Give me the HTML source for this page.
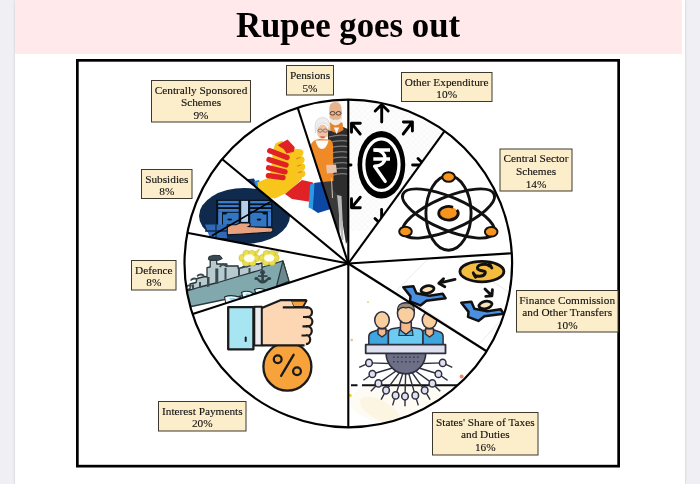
<!DOCTYPE html>
<html><head><meta charset="utf-8">
<style>
html,body{margin:0;padding:0;width:700px;height:484px;overflow:hidden;background:#efeff4;}
#page{position:absolute;left:15px;top:0;width:670px;height:484px;background:#fff;box-shadow:0 0 2.5px rgba(0,0,0,0.18);}
#hdr{position:absolute;left:0;top:0;width:667.3px;height:53.5px;background:#ffe9eb;}
#ttl{will-change:transform;position:absolute;left:0;top:6px;width:666px;text-align:center;font:bold 34.8px "Liberation Serif",serif;color:#000;line-height:40px;}
svg{position:absolute;left:0;top:0;will-change:transform;}
.lb{fill:#fdeecb;stroke:#3d392e;stroke-width:1;}
.tx{font-family:"Liberation Serif",serif;font-size:11.3px;fill:#111;stroke:#111;stroke-width:0.12px;text-anchor:middle;}
</style></head><body>
<div id="page"><div id="hdr"></div><div id="ttl">Rupee goes out</div></div>
<svg width="700" height="484" viewBox="0 0 700 484">
<defs>
<clipPath id="cp"><circle cx="348.3" cy="263.5" r="164"/></clipPath>
<clipPath id="w_oth"><path d="M348.3 263.5L348.3 97.5A166 166 0 0 1 445.9 129.2Z"/></clipPath>
<clipPath id="w_csc"><path d="M348.3 263.5L445.9 129.2A166 166 0 0 1 514.0 253.1Z"/></clipPath>
<clipPath id="w_fin"><path d="M348.3 263.5L514.0 253.1A166 166 0 0 1 488.5 352.4Z"/></clipPath>
<clipPath id="w_sta"><path d="M348.3 263.5L488.5 352.4A166 166 0 0 1 348.3 429.5Z"/></clipPath>
<clipPath id="w_int"><path d="M348.3 263.5L348.3 429.5A166 166 0 0 1 190.4 314.8Z"/></clipPath>
<clipPath id="w_def"><path d="M348.3 263.5L190.4 314.8A166 166 0 0 1 185.2 232.4Z"/></clipPath>
<clipPath id="w_sub"><path d="M348.3 263.5L185.2 232.4A166 166 0 0 1 220.4 157.7Z"/></clipPath>
<clipPath id="w_css"><path d="M348.3 263.5L220.4 157.7A166 166 0 0 1 297.0 105.6Z"/></clipPath>
<clipPath id="w_pen"><path d="M348.3 263.5L297.0 105.6A166 166 0 0 1 348.3 97.5Z"/></clipPath>
<pattern id="hatch" width="4" height="4" patternUnits="userSpaceOnUse" patternTransform="rotate(45)"><rect width="4" height="4" fill="#fdfdfd"/><path d="M0 0H4M0 0V4" stroke="#f1f1f1" stroke-width="0.7"/></pattern>
</defs>
<!-- main box -->
<rect x="77.35" y="60.35" width="541.3" height="405.8" fill="#fff" stroke="#000" stroke-width="2.7"/>
<g id="art" clip-path="url(#cp)">
<!-- OTHER EXPENDITURE: rupee -->
<g clip-path="url(#w_oth)">
<rect x="340" y="90" width="120" height="141" fill="url(#hatch)"/>
<ellipse cx="381.4" cy="164.75" rx="23.85" ry="33.85" fill="#000"/>
<ellipse cx="381.4" cy="164.6" rx="17.6" ry="25.8" fill="none" stroke="#fff" stroke-width="3.3"/>
<g stroke="#fff" stroke-width="3.3" fill="none">
<path d="M373.3 150H390M373.3 159H390"/>
<path d="M375.5 150.2C388 150.2 388.5 166 374.6 166.2L385.2 181.4" stroke-linecap="round" stroke-linejoin="round"/>
</g>
<g stroke="#000" stroke-width="2.9" fill="none" stroke-linecap="round" stroke-linejoin="round">
<path d="M381.7 122V104.6M375.2 111L381.7 104.5L388.2 111"/>
<path d="M360.2 134L351.5 123.3M351.5 132.3V123.3H360.3"/>
<path d="M403.2 134L412.4 122M403.4 122H412.4V131"/>
<path d="M360.2 197.2L351.5 207.7M351.5 198.8V207.7H360.3"/>
<path d="M412.6 165H424M418 158.5L424.5 165L418 171.5"/>
<path d="M381.6 209.5V225M375 218.5L381.6 225L388.2 218.5"/>
<path d="M403.2 197.2L412 207.7M412 198.8V207.7H403.2"/>
<path d="M351 165H340"/>
</g>
</g>
<!-- DEFENCE ship -->
<g clip-path="url(#w_def)" stroke-linejoin="round">
<path d="M184 308L290 286L282.9 260.9L184 290.8Z" fill="#80a8ad" stroke="#2b393e" stroke-width="1.4"/>
<path d="M282.9 260.9L289 281L276.5 286.5Z" fill="#6a8a90" stroke="#2b393e" stroke-width="1.2"/>
<g fill="#b7cbcf" stroke="#26343a" stroke-width="1.3">
<path d="M184 291L190 289L190 284L196 282.5L197 278.5L205 276.5L207 277V267.7L210.2 267V260.2L216.7 260.2V264H226.9V266L238.1 265.8V268.5L262 263V269.5L238 276.5L218 282.5L200 287L184 292Z"/>
</g>
<path d="M208.3 259.5L209 256.5L214 255.3L220 255.6L222.3 258.5L219 260.2H210Z" fill="#3b4a50" stroke="#26343a" stroke-width="1"/>
<g fill="#3b4a50">
<path d="M215.3 268.6H218.3V283.3L215.3 284Z"/>
<path d="M207 277H209.5V286.5L207 287Z"/>
<path d="M219 266.5Q223 260.5 227.5 266.5L226 267.5Q223 263.5 220.5 267.5Z"/>
<path d="M224.5 268H226.5V279.5L224.5 280Z"/>
<path d="M238 268.5H240V275.5L238 276Z"/>
<path d="M190 280Q193 276 197.5 278.5L196.5 280Q193.5 278.5 191 281Z"/>
<path d="M196.5 275.5Q200 272 204.5 275L203.5 276.5Q200.5 274.5 197.5 277Z"/>
<path d="M186 286Q189 283.5 192 285.5L191 287Q189 285.5 187 287.5Z"/>
<path d="M192 284.5H194V290H192Z"/><path d="M199 282H201V288H199Z"/>
<path d="M241 267.5Q244.5 263.5 248 266.5L247 268Q244.5 265.5 242.5 268.5Z"/>
<path d="M252.5 265Q256 261.5 259.5 264L258.5 265.5Q256 263.5 254 266Z"/>
<path d="M248.5 268H250.5V273L248.5 273.5Z"/>
</g>
<g fill="#34434a"><path d="M261.3 273h2.6v10h-2.6z"/><path d="M255.5 278Q262.5 289 270 278L268 277Q262.5 284.5 257.5 277Z"/><circle cx="262.6" cy="272.3" r="2.4"/><path d="M258 275.3h9.4v1.8h-9.4z"/><circle cx="256" cy="278.5" r="1.6"/><circle cx="269.5" cy="278.5" r="1.6"/></g>
<g fill="#e9f7fb" stroke="#1f2b30" stroke-width="1.1" stroke-linejoin="round"><path d="M224.5 297Q231 294 240.5 297.5L241 300L226 304Z"/><path d="M241.5 292.5Q246 290 252 292.5L252.5 295L243 298Z"/><path d="M254.5 289.5Q259 287.5 264.5 289.5L264.5 291L256 293.5Z"/></g><g fill="#8fd5ec"><path d="M229 298.5Q232 297 236 298.5L232 301Z"/><path d="M245 294Q247.5 293 249.5 294L247 296Z"/></g>
<g fill="#eadf4e" stroke="#cdbb33" stroke-width="0.6">
<path d="M252.5 253.5L259.5 249L256.5 255Z"/><path d="M272.5 253.5L279.5 249.5L276.5 255.5Z"/>
<circle cx="242.5" cy="258" r="3.6"/><circle cx="246.5" cy="253.8" r="3.6"/><circle cx="252" cy="254" r="3.6"/><circle cx="256" cy="258.2" r="3.5"/><circle cx="252.5" cy="262.5" r="3.5"/><circle cx="246" cy="262.5" r="3.5"/>
<circle cx="262.5" cy="258" r="3.4"/><circle cx="266.5" cy="254" r="3.5"/><circle cx="272" cy="254" r="3.5"/><circle cx="275.8" cy="258" r="3.4"/><circle cx="272" cy="262" r="3.4"/><circle cx="266" cy="262" r="3.4"/>
</g>
<g fill="#fffef4"><ellipse cx="249.3" cy="258.2" rx="5.4" ry="4"/><ellipse cx="269.2" cy="258" rx="5.2" ry="3.8"/></g>
</g>
<!-- SUBSIDIES -->
<g clip-path="url(#w_sub)">
<ellipse cx="244.5" cy="215.9" rx="45.5" ry="27.9" fill="#0f2a4c"/>
<rect x="216" y="199.7" width="56.4" height="27" fill="#07121f"/>
<g fill="#3b7bcc">
<rect x="218.2" y="200.9" width="20.5" height="2.5"/><rect x="218.2" y="204.9" width="20.5" height="2.2"/><rect x="218.2" y="209" width="20.5" height="2.8"/>
<rect x="250.2" y="201" width="20.9" height="2.4"/><rect x="250.2" y="205.2" width="20.9" height="1.9"/><rect x="250.2" y="209" width="20.9" height="2.3"/>
<rect x="218.2" y="211.8" width="3.8" height="14"/><rect x="267.9" y="211.3" width="3.2" height="15"/>
<path d="M223 227V214.5H226L227.5 212.8H238.7V227Z" fill="#3276c2"/>
<path d="M266.5 227V214.5H263.5L262 212.8H250.2V227Z" fill="#3276c2"/>
</g>
<rect x="241.2" y="200.9" width="6.8" height="21" fill="#b3cdea"/>
<g fill="#07121f"><ellipse cx="229.7" cy="219.5" rx="2.4" ry="1.1"/><ellipse cx="259" cy="219.6" rx="2.4" ry="1.1"/></g>
<path d="M205 224.5H227L227 238H210Z" fill="#2e6ab8"/>
<path d="M205 231H227M216 224.5V238" stroke="#0f2a4c" stroke-width="1.3"/>
<path d="M227.3 224.8H236L240 223H249.5Q251.5 225 248.5 226.6L271.5 227.6Q274.5 230 271.5 232L243 234L227.3 234.8Z" fill="#e8a27f" stroke="#07121f" stroke-width="1.1"/>
<path d="M211.9 235.7L271.1 201.4" stroke="#000" stroke-width="1.6"/>
</g>
<!-- CENTRALLY SPONSORED handshake -->
<g clip-path="url(#w_css)" stroke="none">
<path d="M238 180L254 178.5L262 195L244 199Z" fill="#16336b"/>
<path d="M254 181L259 180L264.5 195.5L259.5 196.5Z" fill="#2a8fe0"/>
<path d="M257.4 182.5L267 178.5L271 171L272 160L273 150L275.5 143.5L281.5 140.8L289 145L295 149L299 149.3L301 153L302 178.5L299 182L290 190.5L285.5 193.5L274.8 198.5L264.9 197L258.3 189.5Z" fill="#f7c51c"/>
<path d="M285 194L302 180L313 182.5L311.5 202L292 199Z" fill="#e02126"/>
<path d="M314 183L328 181L334 208L318 213L312 209Z" fill="#0c47a3"/>
<path d="M310.2 184.5L314.5 183L312.8 209.5L308.6 207.5Z" fill="#2b9ae6"/>
<g stroke="#e02126" stroke-width="5.4" stroke-linecap="round" fill="none">
<path d="M269.8 150.8L287 157.5M269 159.6L286 165M268.6 167.8L285 171.8M268.4 175.6L283 177.6"/>
</g>
<path d="M278.6 145.3L287.4 140.2L294.1 147.4L293.1 151.5L286.9 152.6L283.8 148.4Z" fill="#e02126" stroke="#e02126" stroke-width="1.2" stroke-linejoin="round"/>
<g fill="#f7c51c"><circle cx="299.8" cy="152.8" r="3.6"/><circle cx="301" cy="159.8" r="3.6"/><circle cx="301.6" cy="166.8" r="3.6"/><circle cx="301.8" cy="173.6" r="3.6"/></g>
<g stroke="#d88a1a" stroke-width="1.2" stroke-linecap="round"><path d="M296.5 158.8L300 157.5M297.5 166L300.8 165M298.5 172.5L301.3 171.8"/></g>
</g>
<!-- PENSIONS couple -->
<g clip-path="url(#w_pen)" stroke="none">
<path d="M322 180L338 178L339 200L339.5 234L336.5 236Z" fill="#3a3a3a"/>
<path d="M327.5 131L334 126.5L342 126.5L350 130L350 236L346 244L338 195L331 188Z" fill="#2d2d2d"/>
<path d="M337 195L341.5 196L343.5 240L341.5 240Z" fill="#b9b9b9"/>
<g stroke="#7c7c7c" stroke-width="1.25" fill="none"><path d="M329 137Q340 134 350 136M329 142.5Q340 139.5 350 141.5M329 148Q340 145 350 147M329 153.5Q340 150.5 350 152.5M329.5 159Q340 156 350 158M330 164.5Q340 161.5 350 163.5M331 170Q340 167 350 169M332 175.5Q340 172.5 350 174.5"/></g>
<path d="M329.5 122.5H342.5L343.5 130L337 133.5L328.5 130Z" fill="#e6822a"/>
<path d="M333.8 127.5L336.5 134L339.2 127.5Z" fill="#f5f5f5"/>
<path d="M329.2 111Q328.5 102 335.5 102Q342 102 341.8 111L341.5 119Q340 125 335.5 125Q331 125 329.8 119Z" fill="#e8b48f"/>
<g fill="none" stroke="#3a2a20" stroke-width="0.8"><ellipse cx="332.6" cy="113.3" rx="2.5" ry="1.8"/><ellipse cx="338.6" cy="113.3" rx="2.5" ry="1.8"/></g>
<path d="M329.5 117Q332 121 335.5 119.5Q339 121 341.5 117Q342.5 124 335.5 125.5Q329 124 329.5 117Z" fill="#efebe6"/>
<path d="M311 144Q313.5 139.5 319.5 139L329.5 139.5Q333 141 333 146L333.5 181L322 182L312 178Z" fill="#ef8a27"/>
<path d="M315.5 140.5Q317.5 149 322 149Q326.5 149 328.5 140.5Z" fill="#fbfbfb"/>
<path d="M326 165L336 164.5L337 172.5L327 173.5Z" fill="#eac4ad"/>
<path d="M331.5 178L332.5 198" stroke="#cfc5b8" stroke-width="1" fill="none"/>
<ellipse cx="322.6" cy="131.8" rx="5.6" ry="7.2" fill="#f2c3a2"/>
<path d="M315.5 133Q313 117.5 322.5 117.5Q331 117 330 131Q329 124 322.5 123Q317 123.5 315.5 133Z" fill="#eeeeee" stroke="#cfcfcf" stroke-width="0.6"/>
<g fill="none" stroke="#5a5a5a" stroke-width="0.7"><ellipse cx="320.2" cy="130.6" rx="2.2" ry="1.6"/><ellipse cx="325.3" cy="130.6" rx="2.2" ry="1.6"/></g>
<path d="M320.5 136.4Q322.6 138.2 324.6 136.4" stroke="#d2504e" stroke-width="1.3" fill="none"/>
</g>
<!-- FINANCE -->
<g clip-path="url(#w_fin)">
<path d="M441 246L396.6 290.7L478 345L520 300Z" fill="#fff" stroke="#e6e6e6" stroke-width="0.8"/>
<ellipse cx="481.9" cy="271.6" rx="22" ry="10.2" fill="#f4bd40" stroke="#111" stroke-width="2.8"/>
<g fill="none" stroke="#111" stroke-width="2.9" stroke-linecap="round" stroke-linejoin="round">
<path d="M489.5 266C485 262.5 476 265 477.5 268.7C479 272 487 269.5 485 273.8C483 277.5 475 276.5 474 274.5"/>
<path d="M489.5 263.8L491.8 268M473.3 272.8L475.5 277.2"/>
<path d="M455 279.4L439 283.2M443.5 278.8L438.8 283.3L444.8 286.8"/>
<path d="M485 289L491.8 295.8M485.8 296.4L491.9 295.9L492.4 289.8"/>
</g>
<g stroke="#111" stroke-width="2.5" stroke-linejoin="round">
<path d="M403.3 287.3L413.4 286.2L416.4 293.2L429.3 295.8L442.7 293.8L445.6 298.2L426.4 300.7L420.4 305.4L410 301.4L410.5 296.4Z" fill="#4a8fe0"/>
<ellipse cx="427.5" cy="289.5" rx="6.6" ry="3.6" transform="rotate(-12 427.5 289.5)" fill="#fbe2b6" stroke-width="2.8"/>
</g>
<g transform="translate(58 15.5)" stroke="#111" stroke-width="2.5" stroke-linejoin="round">
<path d="M403.3 287.3L413.4 286.2L416.4 293.2L429.3 295.8L442.7 293.8L445.6 298.2L426.4 300.7L420.4 305.4L410 301.4L410.5 296.4Z" fill="#4a8fe0"/>
<ellipse cx="427.5" cy="289.5" rx="6.6" ry="3.6" transform="rotate(-12 427.5 289.5)" fill="#fbe2b6" stroke-width="2.8"/>
</g>
</g>
<!-- STATES SHARE -->
<g clip-path="url(#w_sta)">
<ellipse cx="380" cy="410" rx="22" ry="9.5" transform="rotate(28 380 410)" fill="#f9efcf"/>
<ellipse cx="400" cy="402" rx="50" ry="22" fill="#fdf9ec" opacity="0.6"/>
<circle cx="350.2" cy="395.4" r="1.6" fill="#f3cf45"/>
<circle cx="461.6" cy="376.6" r="2" fill="#eb8a6c"/>
<circle cx="351.8" cy="340" r="1.3" fill="#f1b9a8"/>
<circle cx="368" cy="302" r="1.2" fill="#dfe6a8"/>
<g stroke="#111" stroke-width="2.1" fill="none">
<path d="M351 385.2H357.5M362 385.2H470"/>
</g>
<g stroke="#2e2f3e" stroke-width="1.4" fill="none">
<path d="M405.9 364L369 362.9M405.9 364L372.4 374M405.9 364L378.4 383.4M405.9 364L386.1 390.3M405.9 364L395.6 395.4M405.9 364L405 396.3M405.9 364L415.3 395.4M405.9 364L424.7 390.3M405.9 364L432.4 383.4M405.9 364L438.4 374M405.9 364L442.7 362.9"/>
<path d="M369.0 362.9L359.2 367.3M372.4 374.0L363.4 380.3M378.4 383.4L370.8 391.2M386.1 390.3L381.1 399.7M395.6 395.4L392.6 405.4M405.0 396.3L405.0 406.3M415.3 395.4L418.3 405.4M424.7 390.3L430.1 399.7M432.4 383.4L440.2 391.2M438.4 374.0L447.6 380.3M442.7 362.9L452.3 367.3"/>
</g>
<g fill="#dfe0f0" stroke="#2e2f3e" stroke-width="1.5">
<ellipse cx="369" cy="362.9" rx="3.3" ry="3.6"/><ellipse cx="372.4" cy="374" rx="3.3" ry="3.6"/><ellipse cx="378.4" cy="383.4" rx="3.3" ry="3.6"/><ellipse cx="386.1" cy="390.3" rx="3.3" ry="3.6"/><ellipse cx="395.6" cy="395.4" rx="3.3" ry="3.6"/><ellipse cx="405" cy="396.3" rx="3.3" ry="3.6"/><ellipse cx="415.3" cy="395.4" rx="3.3" ry="3.6"/><ellipse cx="424.7" cy="390.3" rx="3.3" ry="3.6"/><ellipse cx="432.4" cy="383.4" rx="3.3" ry="3.6"/><ellipse cx="438.4" cy="374" rx="3.3" ry="3.6"/><ellipse cx="442.7" cy="362.9" rx="3.3" ry="3.6"/>
</g>
<path d="M386 352.6A19.9 21.3 0 0 0 425.8 352.6Z" fill="#6d6f86" stroke="#2e2f3e" stroke-width="1.6"/>
<g fill="#3d3f52"><path d="M393 356.5h1.6v1.6h-1.6zM397 356.5h1.6v1.6h-1.6zM401 356.5h1.6v1.6h-1.6zM405 356.5h1.6v1.6h-1.6zM409 356.5h1.6v1.6h-1.6zM413 356.5h1.6v1.6h-1.6zM417 356.5h1.6v1.6h-1.6zM393 361h1.6v1.6h-1.6zM397 361h1.6v1.6h-1.6zM401 361h1.6v1.6h-1.6zM405 361h1.6v1.6h-1.6zM409 361h1.6v1.6h-1.6zM413 361h1.6v1.6h-1.6zM417 361h1.6v1.6h-1.6z"/></g>
<g stroke="#2e2f3e" stroke-width="1.5" stroke-linejoin="round">
<path d="M368.8 345.3V336.5Q369 333 372 332L378 330L388.4 330.5V345.3Z" fill="#3ea6dc"/>
<path d="M443.1 345.3V336.5Q443 333 440 332L434 330L422.8 330.5V345.3Z" fill="#3ea6dc"/>
<path d="M378 328.7H386V334L382 337L378 334Z" fill="#f3b98a"/>
<path d="M425.5 328.7H433.5V334L429.5 337L425.5 334Z" fill="#f3b98a"/>
<ellipse cx="382" cy="320.1" rx="7.3" ry="8.4" fill="#f9cf9f"/>
<ellipse cx="429.5" cy="320.1" rx="7.3" ry="8.4" fill="#f9cf9f"/>
<path d="M388.4 345.3V333Q388.5 329.5 392 328.7L400 327.5H412L419.5 328.7Q422.8 329.5 422.8 333V345.3Z" fill="#6ccbf0"/>
<path d="M400.5 322H411.3V330.5L405.9 334.5L400.5 330.5Z" fill="#f3b98a"/>
<path d="M399.5 329.5L405.9 334.5L412.3 329.5L413 335.5H398.8Z" fill="#4fb2e0" stroke-width="1.2"/>
<ellipse cx="405.9" cy="313" rx="8.5" ry="10.3" fill="#f9cf9f"/>
<path d="M397.5 311Q397 302.8 405.9 302.8Q414.8 302.8 414.3 311Q410 306 405.9 308Q401.5 306 397.5 311Z" fill="#9a8a78" stroke-width="1.3"/>
<rect x="365.7" y="344.7" width="79.8" height="8.6" fill="#dde0ef" stroke-width="1.8"/>
</g>
</g>
<!-- INTEREST -->
<g clip-path="url(#w_int)" stroke="#1b1b1b" stroke-linejoin="round">
<circle cx="287.4" cy="366.7" r="24" fill="#f7a23b" stroke-width="2.3"/>
<g fill="none" stroke-width="2.3" stroke-linecap="round">
<circle cx="277.7" cy="359.3" r="3.9"/><circle cx="297" cy="371.3" r="3.9"/>
<path d="M293.6 354.8L281.1 375.8"/>
</g>
<path d="M290.3 300.6H306.6L303 307H293.5Z" fill="#f7a23b" stroke-width="1.8"/>
<g fill="#fdd6b4" stroke-width="2.2">
<circle cx="307.2" cy="312.2" r="4.8"/><circle cx="307.6" cy="321.6" r="4.8"/><circle cx="307" cy="331" r="4.8"/><circle cx="305.6" cy="339.6" r="4.6"/>
</g>
<path d="M261.8 308L280.4 300.2H290.8L294 307.4H306V345.4H261.8Z" fill="#fdd6b4" stroke="none"/>
<path d="M306.6 300.2H280.4L261.8 308M261.8 345.4H304.5M282.8 307.4H308.3M303 317H308M302.5 326.4H307.5M301.5 335.5H306.5" fill="none" stroke-width="2.2"/>
<rect x="254.3" y="306.8" width="7.5" height="38.8" fill="#ededf0" stroke-width="2"/>
<rect x="228.2" y="307.1" width="25.2" height="42.2" fill="#a8e5f2" stroke-width="2.3"/>
<path d="M245.7 337.5V341" stroke-width="2" stroke-linecap="round"/>
</g>
<!-- CENTRAL SECTOR: atom -->
<g clip-path="url(#w_csc)" fill="none" stroke="#111" stroke-width="2.9">
<ellipse cx="448.5" cy="213" rx="22.6" ry="37.2"/>
<ellipse cx="448.5" cy="213.5" rx="49.5" ry="16.5" transform="rotate(23 448.5 213.5)"/>
<ellipse cx="448.5" cy="213.5" rx="49.5" ry="16.5" transform="rotate(-23 448.5 213.5)"/>
<g fill="#f7941d" stroke="#111" stroke-width="2">
<path d="M456.9 209.9A9.75 6.8 0 1 1 453.03 207.3" stroke-width="2.8"/>
<ellipse cx="448.6" cy="177" rx="6.3" ry="4.8"/>
<ellipse cx="405.5" cy="231.5" rx="6.3" ry="4.8"/>
<ellipse cx="491.2" cy="231.8" rx="6.3" ry="4.8"/>
</g>
</g>
</g>
<!-- pie lines -->
<g stroke="#000" stroke-width="2.1" fill="none">
<circle cx="348.3" cy="263.5" r="163.8" stroke-width="2.2"/>
<line x1="348.3" y1="263.5" x2="348.3" y2="99.2"/>
<line x1="348.3" y1="263.5" x2="444.9" y2="130.6"/>
<line x1="348.3" y1="263.5" x2="512.3" y2="253.2"/>
<line x1="348.3" y1="263.5" x2="487.0" y2="351.5"/>
<line x1="348.3" y1="263.5" x2="348.3" y2="427.8"/>
<line x1="348.3" y1="263.5" x2="192.0" y2="314.3"/>
<line x1="348.3" y1="263.5" x2="186.9" y2="232.7"/>
<line x1="348.3" y1="263.5" x2="221.7" y2="158.8"/>
<line x1="348.3" y1="263.5" x2="297.5" y2="107.2"/>
</g>
<!-- labels -->
<rect class="lb" x="151.5" y="80.5" width="99" height="41.5"/>
<text class="tx" x="201" y="93.6">Centrally Sponsored</text>
<text class="tx" x="201" y="106.4">Schemes</text>
<text class="tx" x="201" y="119.2">9%</text>

<rect class="lb" x="286.5" y="65.5" width="47" height="29.5"/>
<text class="tx" x="310" y="79.1">Pensions</text>
<text class="tx" x="310" y="91.9">5%</text>

<rect class="lb" x="401.5" y="72.5" width="90.5" height="29"/>
<text class="tx" x="446.7" y="85.6">Other Expenditure</text>
<text class="tx" x="446.7" y="98.4">10%</text>

<rect class="lb" x="500" y="149" width="72" height="42"/>
<text class="tx" x="536" y="162.1">Central Sector</text>
<text class="tx" x="536" y="174.9">Schemes</text>
<text class="tx" x="536" y="187.7">14%</text>

<rect class="lb" x="141.5" y="169.5" width="50.5" height="29"/>
<text class="tx" x="166.8" y="182.6">Subsidies</text>
<text class="tx" x="166.8" y="195.4">8%</text>

<rect class="lb" x="131.5" y="260.5" width="44.5" height="29.5"/>
<text class="tx" x="153.8" y="273.6">Defence</text>
<text class="tx" x="153.8" y="286.4">8%</text>

<rect class="lb" x="158.5" y="401.5" width="87.5" height="29.5"/>
<text class="tx" x="202.3" y="414.6">Interest Payments</text>
<text class="tx" x="202.3" y="427.4">20%</text>

<rect class="lb" x="432.5" y="412.5" width="105.5" height="42.5"/>
<text class="tx" x="485.3" y="425.6">States' Share of Taxes</text>
<text class="tx" x="485.3" y="438.4">and Duties</text>
<text class="tx" x="485.3" y="451.2">16%</text>

<rect class="lb" x="516.5" y="290.5" width="101.5" height="41.5"/>
<text class="tx" x="567.2" y="303.6">Finance Commission</text>
<text class="tx" x="567.2" y="316.4">and Other Transfers</text>
<text class="tx" x="567.2" y="329.2">10%</text>
</svg>
</body></html>
